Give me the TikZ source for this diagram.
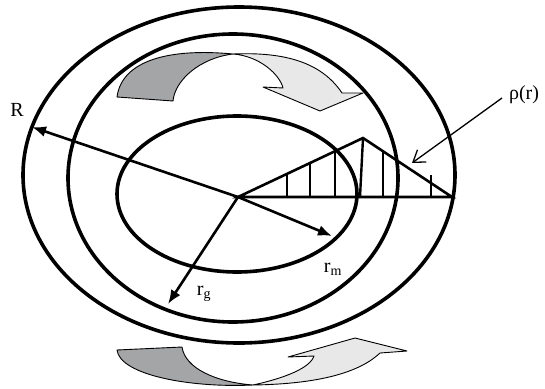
\documentclass[tikz,border=0pt]{standalone}
\usepackage{fontspec}
\setmainfont{Liberation Serif}
\usetikzlibrary{arrows.meta}
\definecolor{RibbonDark}{RGB}{164,165,167}
\definecolor{RibbonLight}{RGB}{231,232,231}
\tikzset{
  ring/.style={line width=3.6pt},
  radius/.style={-{Latex[length=14pt,width=11pt]},line width=2.6pt},
  profile/.style={line width=2.6pt,line join=miter},
  hatch/.style={line width=2.4pt},
  ribbon/.style={draw=black,line width=0.9pt,line join=round},
  pointer/.style={-{Straight Barb[length=11pt,width=15pt]},line width=1.3pt},
  lbl/.style={font=\fontsize{20}{22}\selectfont,inner sep=0pt}
}

\begin{document}
\begin{tikzpicture}[x=1pt,y=-1pt]
\useasboundingbox (0,0) rectangle (545,388);

% three rings
\draw[ring] (239,175) ellipse [x radius=216,y radius=168];
\draw[ring] (233,178) ellipse [x radius=165,y radius=144];
\draw[ring] (237,194) ellipse [x radius=120,y radius=78];

% rotation ribbon, top
\fill[RibbonDark,ribbon] (117,97) -- (173,101)
  .. controls (175,80) and (200,58) .. (233,54)
  .. controls (170,48) and (122,60) .. (117,97) -- cycle;
\fill[RibbonLight,ribbon] (233,54) .. controls (260,56) and (280,75) .. (283,88)
  -- (263,87) -- (320,111) -- (363,93) -- (342,93)
  .. controls (320,60) and (280,52) .. (233,54) -- cycle;

% rotation ribbon, bottom
\fill[RibbonDark,ribbon] (117,350) -- (182,347)
  .. controls (185,368) and (215,382) .. (253,385)
  .. controls (190,388) and (120,375) .. (117,350) -- cycle;
\fill[RibbonLight,ribbon] (253,385) .. controls (285,378) and (310,368) .. (314,356)
  -- (288,357) -- (355,338) -- (407,351) -- (380,353)
  .. controls (360,372) and (320,384) .. (253,385) -- cycle;

% density profile
\coordinate (ctr) at (238,197);
\coordinate (apex) at (363,138);
\coordinate (rend) at (452,197);
\draw[profile] (ctr) -- (apex) -- (rend) -- cycle;
\foreach \hx/\hy in {287/174,310/163,335/151,383/151,431/175}
  \draw[hatch] (\hx,197) -- (\hx,\hy);
\draw[hatch] (360,197) -- (apex);

% radii
\coordinate (tipR) at (32,127);
\coordinate (tipm) at (332,236);
\coordinate (tipg) at (168,304);
\draw[radius] (ctr) -- (tipR);
\draw[radius] (ctr) -- (tipm);
\draw[radius] (ctr) -- (tipg);

% labels
\node[lbl] (lblR) at (17,110) {R};
\node[lbl] (lblrm) at (333,269) {r\textsubscript{m}};
\node[lbl] (lblrg) at (204,294) {r\textsubscript{g}};
\node[lbl] (lblrho) at (524,95) {ρ(r)};

\coordinate (rhotail) at (502,98);
\coordinate (rhotip) at (412,163);
\draw[pointer] (rhotail) -- (rhotip);
\end{tikzpicture}
\end{document}
